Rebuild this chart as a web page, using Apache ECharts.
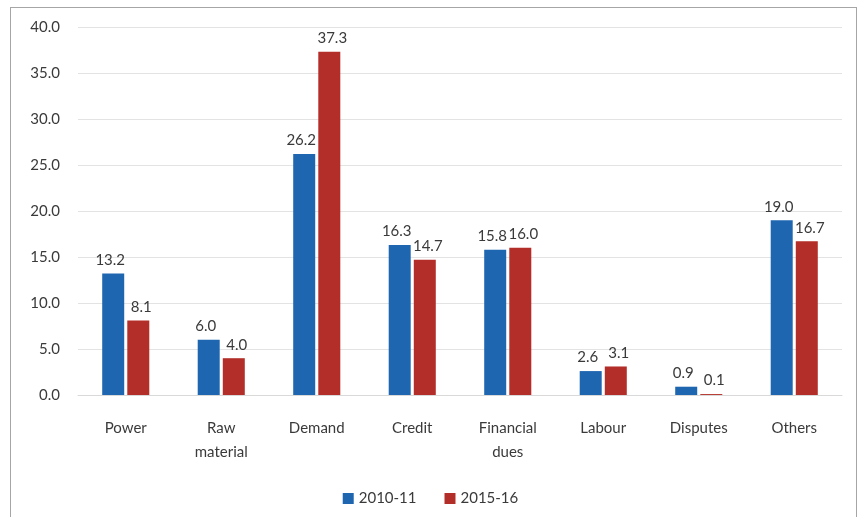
<!DOCTYPE html>
<html>
<head>
<meta charset="utf-8">
<script src="https://cdn.jsdelivr.net/npm/echarts@6/dist/echarts.min.js"></script>
<style>
  html, body { margin: 0; padding: 0; background: #fff; }
  #frame {
    position: absolute; left: 10px; top: 7px; width: 847px; height: 520px;
    border: 1px solid #a6a6a6; box-sizing: border-box;
  }
  #chart { position: absolute; left: 0; top: 0; width: 861px; height: 517px; }
</style>
</head>
<body>
<div id="frame"></div>
<div id="chart"></div>
<script>
const categories = ['Power', 'Raw\nmaterial', 'Demand', 'Credit', 'Financial\ndues', 'Labour', 'Disputes', 'Others']
const yTicks = [0, 5, 10, 15, 20, 25, 30, 35, 40]
const series2010 = [13.2, 6.0, 26.2, 16.3, 15.8, 2.6, 0.9, 19.0]
const series2015 = [8.1, 4.0, 37.3, 14.7, 16.0, 3.1, 0.1, 16.7]

const chart = echarts.init(document.getElementById('chart'))
const font = 'Lato, "Open Sans", sans-serif'
const textColor = '#3a3a3a'

function labelStyle(dx) {
  return {
    show: true,
    position: 'top',
    distance: 6,
    offset: [dx, 0],
    fontFamily: font,
    fontSize: 15,
    color: textColor,
    formatter: p => p.value.toFixed(1),
  }
}

chart.setOption({
  animation: false,
  textStyle: { fontFamily: font },
  grid: { left: 78, right: 19, top: 27, bottom: 122 },
  legend: {
    bottom: 6,
    left: 'center',
    itemWidth: 11,
    itemHeight: 11,
    itemGap: 28,
    icon: 'rect',
    textStyle: { fontFamily: font, fontSize: 15, color: textColor },
    data: ['2010-11', '2015-16'],
  },
  xAxis: {
    type: 'category',
    data: categories,
    axisLine: { lineStyle: { color: '#d9d9d9' } },
    axisTick: { show: false },
    axisLabel: { margin: 21, fontFamily: font, fontSize: 15, color: textColor, lineHeight: 24 },
  },
  yAxis: {
    type: 'value',
    min: yTicks[0],
    max: yTicks[yTicks.length - 1],
    interval: 5,
    axisLine: { show: false },
    axisTick: { show: false },
    splitLine: { lineStyle: { color: '#e3e3e3' } },
    axisLabel: {
      margin: 18, fontFamily: font, fontSize: 15, color: textColor,
      formatter: v => v.toFixed(1),
    },
  },
  series: [
    {
      name: '2010-11',
      type: 'bar',
      data: series2010,
      barWidth: 22,
      barGap: '14%',
      itemStyle: { color: '#1f66b1' },
      label: labelStyle(-3),
    },
    {
      name: '2015-16',
      type: 'bar',
      data: series2015,
      barWidth: 22,
      itemStyle: { color: '#b32e28' },
      label: labelStyle(3),
    },
  ],
})
</script>
</body>
</html>
